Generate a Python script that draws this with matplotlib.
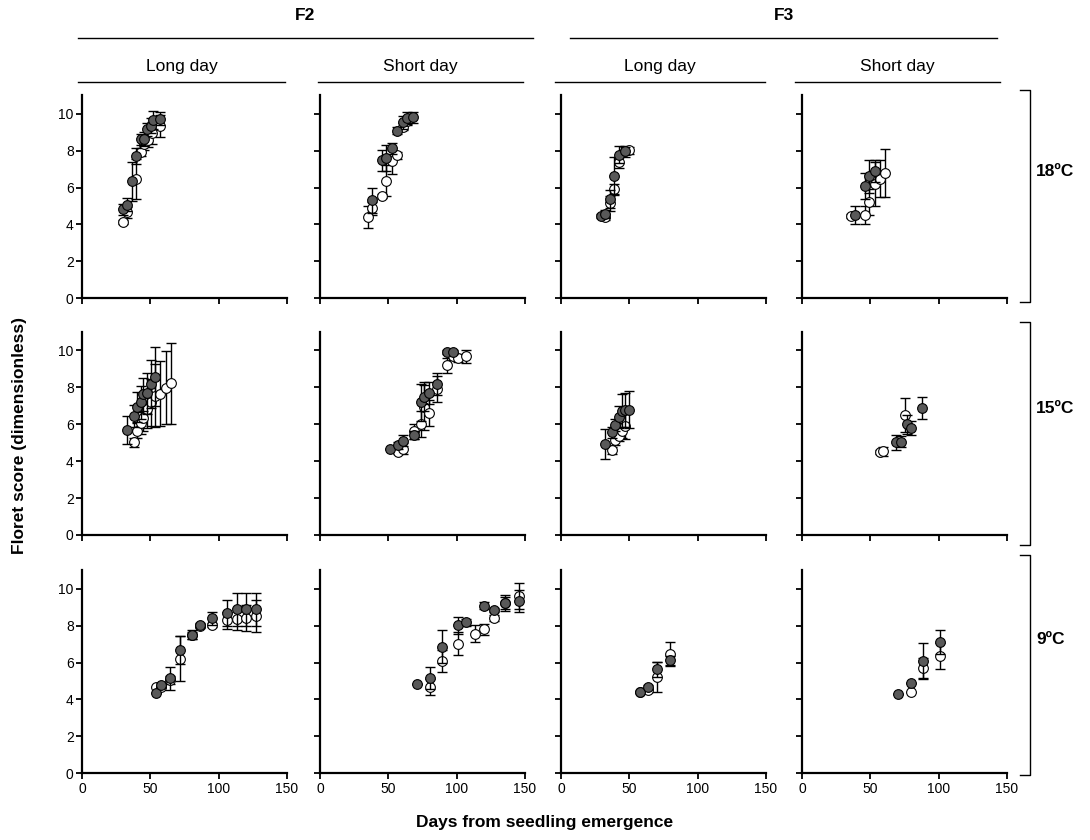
import matplotlib
matplotlib.use("Agg")
import matplotlib.pyplot as plt
from matplotlib.lines import Line2D

plt.rcParams["font.family"] = ["Liberation Sans", "DejaVu Sans"]

# ---- data: (days from emergence, floret score, error) ----
# F2, long day
F2_LD_18_FILLED = [(30.2, 4.83, 0.3), (33.2, 5.06, 0.35), (36.3, 6.33, 1.05), (39.3, 7.72, 0.45),
                   (43.2, 8.63, 0.3), (45.6, 8.63, 0.4), (47.3, 9.17, 0.35), (50.2, 9.35, 0.4),
                   (52.2, 9.67, 0.5), (57.3, 9.73, 0.35)]
F2_LD_18_OPEN = [(30.2, 4.12, 0.1), (33.2, 4.67, 0.3), (39.3, 6.47, 1.1), (43.2, 7.92, 0.2),
                 (45.6, 8.35, 0.3), (48.2, 8.59, 0.4), (51.1, 8.95, 0.6), (57.3, 9.35, 0.6)]
F2_LD_15_FILLED = [(33.1, 5.69, 0.75), (38.3, 6.46, 0.6), (40.0, 6.95, 0.8), (43.2, 7.18, 0.9),
                   (44.9, 7.63, 0.9), (47.3, 7.68, 1.1), (50.2, 8.17, 1.3), (53.2, 8.58, 1.6)]
F2_LD_15_OPEN = [(38.3, 5.03, 0.25), (40.0, 5.65, 0.4), (43.2, 6.05, 0.6), (44.9, 6.34, 0.7),
                 (47.3, 6.82, 1.0), (50.2, 7.18, 1.3), (53.2, 7.54, 1.7), (57.1, 7.66, 1.75),
                 (61.2, 7.99, 2.0), (65.3, 8.22, 2.2)]
F2_LD_9_FILLED = [(53.9, 4.34, 0.0), (58.0, 4.77, 0.1), (64.1, 5.14, 0.6), (71.5, 6.67, 0.75),
                  (80.2, 7.51, 0.25), (86.6, 8.02, 0.1), (95.1, 8.41, 0.35), (106.1, 8.68, 0.7),
                  (113.2, 8.88, 0.9), (120.0, 8.88, 0.9), (127.3, 8.88, 0.9)]
F2_LD_9_OPEN = [(53.9, 4.68, 0.0), (58.0, 4.70, 0.1), (64.1, 5.05, 0.2), (71.5, 6.22, 1.2),
                (80.2, 7.48, 0.2), (86.6, 8.0, 0.1), (95.1, 8.02, 0.1), (106.1, 8.29, 0.45),
                (113.2, 8.34, 0.6), (120.0, 8.43, 0.7), (127.3, 8.52, 0.85)]

# F2, short day
F2_SD_18_FILLED = [(38.2, 5.30, 0.7), (45.1, 7.47, 0.55), (48.5, 7.60, 0.7), (52.5, 8.14, 0.3),
                   (56.7, 9.09, 0.2), (60.4, 9.53, 0.35), (63.6, 9.77, 0.35), (67.8, 9.80, 0.3)]
F2_SD_18_OPEN = [(35.2, 4.39, 0.6), (38.2, 4.88, 0.35), (45.1, 5.55, 0.1), (48.5, 6.38, 0.85),
                 (52.5, 7.45, 0.7), (56.7, 7.74, 0.2), (60.4, 9.30, 0.2), (63.6, 9.60, 0.2)]
F2_SD_15_FILLED = [(51.2, 4.67, 0.0), (57.4, 4.85, 0.2), (60.9, 5.12, 0.3), (69.0, 5.42, 0.2),
                   (74.0, 7.18, 1.0), (75.9, 7.50, 0.8), (80.1, 7.68, 0.6), (85.8, 8.17, 0.6),
                   (92.9, 9.91, 0.1), (97.4, 9.91, 0.1)]
F2_SD_15_OPEN = [(57.4, 4.49, 0.1), (60.9, 4.67, 0.3), (69.0, 5.62, 0.4), (74.0, 6.01, 0.7),
                 (75.9, 6.91, 1.2), (80.1, 6.61, 0.7), (85.8, 7.93, 0.7), (92.9, 9.19, 0.4),
                 (97.4, 9.69, 0.2), (101.0, 9.60, 0.2), (106.9, 9.69, 0.35)]
F2_SD_9_FILLED = [(71.3, 4.83, 0.0), (80.4, 5.17, 0.6), (89.5, 6.85, 0.9), (101.3, 8.02, 0.45),
                  (106.5, 8.18, 0.2), (120.2, 9.08, 0.2), (127.4, 8.85, 0.1), (135.7, 9.23, 0.45),
                  (145.8, 9.32, 0.6)]
F2_SD_9_OPEN = [(80.4, 4.68, 0.45), (89.5, 6.09, 0.6), (101.3, 7.03, 0.6), (113.4, 7.57, 0.45),
                (120.2, 7.80, 0.3), (127.4, 8.41, 0.15), (135.7, 9.23, 0.3), (145.8, 9.59, 0.7)]

# F3, long day
F3_LD_18_FILLED = [(29.6, 4.47, 0.1), (32.5, 4.56, 0.2), (35.7, 5.37, 0.5), (38.6, 6.64, 1.0),
                   (42.5, 7.78, 0.45), (46.6, 8.00, 0.2)]
F3_LD_18_OPEN = [(32.5, 4.40, 0.15), (35.7, 5.15, 0.4), (38.6, 5.91, 0.3), (42.5, 7.36, 0.3),
                 (46.6, 7.96, 0.3), (49.7, 8.01, 0.2)]
F3_LD_15_FILLED = [(32.5, 4.94, 0.8), (37.4, 5.56, 0.3), (39.8, 5.96, 0.3), (42.5, 6.41, 0.6),
                   (44.7, 6.73, 0.9), (46.6, 6.77, 0.9), (49.7, 6.79, 1.0)]
F3_LD_15_OPEN = [(37.4, 4.58, 0.2), (39.8, 5.15, 0.3), (42.5, 5.39, 0.3), (44.7, 5.65, 0.4),
                 (46.6, 5.92, 0.7)]
F3_LD_9_FILLED = [(57.5, 4.38, 0.0), (63.6, 4.68, 0.1), (70.4, 5.64, 0.4), (79.6, 6.13, 0.25)]
F3_LD_9_OPEN = [(57.5, 4.41, 0.0), (63.6, 4.50, 0.1), (70.4, 5.23, 0.8), (79.6, 6.49, 0.65)]

# F3, short day
F3_SD_18_FILLED = [(39.0, 4.52, 0.5), (45.8, 6.09, 0.7), (48.7, 6.60, 0.9), (53.1, 6.92, 0.6)]
F3_SD_18_OPEN = [(35.8, 4.47, 0.1), (45.8, 4.52, 0.5), (48.7, 5.24, 0.7), (53.1, 6.20, 1.2),
                 (56.8, 6.47, 1.0), (60.9, 6.78, 1.3)]
F3_SD_15_FILLED = [(69.0, 5.03, 0.4), (72.5, 5.05, 0.3), (77.0, 6.00, 0.5), (80.0, 5.80, 0.4),
                   (88.0, 6.90, 0.6)]
F3_SD_15_OPEN = [(57.3, 4.49, 0.1), (59.3, 4.54, 0.25), (75.0, 6.50, 0.9)]
F3_SD_9_FILLED = [(70.2, 4.32, 0.0), (79.5, 4.92, 0.0), (88.5, 6.09, 0.95), (100.7, 7.10, 0.65)]
F3_SD_9_OPEN = [(79.5, 4.41, 0.0), (88.5, 5.68, 0.55), (100.7, 6.34, 0.7)]

GENERATIONS = ["F2", "F3"]
PHOTOPERIODS = ["Long day", "Short day"]
TEMPERATURES = ["18ºC", "15ºC", "9ºC"]
X_TICKS = [0, 50, 100, 150]
Y_TICKS = [0, 2, 4, 6, 8, 10]

PANELS = [
    [(F2_LD_18_FILLED, F2_LD_18_OPEN), (F2_SD_18_FILLED, F2_SD_18_OPEN),
     (F3_LD_18_FILLED, F3_LD_18_OPEN), (F3_SD_18_FILLED, F3_SD_18_OPEN)],
    [(F2_LD_15_FILLED, F2_LD_15_OPEN), (F2_SD_15_FILLED, F2_SD_15_OPEN),
     (F3_LD_15_FILLED, F3_LD_15_OPEN), (F3_SD_15_FILLED, F3_SD_15_OPEN)],
    [(F2_LD_9_FILLED, F2_LD_9_OPEN), (F2_SD_9_FILLED, F2_SD_9_OPEN),
     (F3_LD_9_FILLED, F3_LD_9_OPEN), (F3_SD_9_FILLED, F3_SD_9_OPEN)],
]

W, H = 1090, 840
fig = plt.figure(figsize=(W / 100, H / 100), dpi=100)

col_left = [82, 320, 561, 802]
ax_w = 205
row_bottom = [298.3, 535.0, 773.3]
ax_h = 203.0


def fx(px):
    return px / W


def fy(py):
    return 1 - py / H


def draw_series(ax, pts, face, z):
    xs = [p[0] for p in pts]
    ys = [p[1] for p in pts]
    es = [p[2] for p in pts]
    ax.errorbar(xs, ys, yerr=es, fmt="none", ecolor="black", elinewidth=1.0,
                capsize=3.5, capthick=1.0, zorder=z)
    ax.plot(xs, ys, "o", ms=7, mfc=face, mec="black", mew=0.8, ls="none", zorder=z + 0.5)


for r in range(3):
    for c in range(4):
        ax = fig.add_axes([fx(col_left[c]), fy(row_bottom[r]), fx(ax_w), ax_h / H])
        filled, open_ = PANELS[r][c]
        draw_series(ax, open_, "white", 2)
        draw_series(ax, filled, "#595959", 3)
        ax.set_xlim(0, 150)
        ax.set_ylim(0, 11)
        ax.set_xticks(X_TICKS)
        ax.set_yticks(Y_TICKS)
        for s in ("top", "right"):
            ax.spines[s].set_visible(False)
        for s in ("left", "bottom"):
            ax.spines[s].set_linewidth(1.6)
        ax.tick_params(direction="out", length=4, width=1.3, labelsize=10, pad=2)
        if r < 2:
            ax.set_xticklabels([])
        if c > 0:
            ax.set_yticklabels([])

# column headers with rules underneath
header_spans = [(78, 285), (318, 523), (555, 765), (795, 1000)]
for i, (a, b) in enumerate(header_spans):
    fig.text(fx((a + b) / 2), fy(67), PHOTOPERIODS[i % 2], ha="center", va="center", fontsize=12.5)
    fig.add_artist(Line2D([fx(a), fx(b)], [fy(82), fy(82)], color="black", lw=1.0))

gen_spans = [(78, 533), (570, 997)]
for g, (a, b) in zip(GENERATIONS, gen_spans):
    fig.text(fx((a + b) / 2), fy(15), g, ha="center", va="center", fontsize=12.5, fontweight="bold")
    fig.add_artist(Line2D([fx(a), fx(b)], [fy(38), fy(38)], color="black", lw=1.0))

# temperature brackets on the right
bracket_spans = [(90, 302), (322, 545), (555, 775)]
for t, (a, b) in zip(TEMPERATURES, bracket_spans):
    xb = 1030
    fig.add_artist(Line2D([fx(xb - 10), fx(xb), fx(xb), fx(xb - 10)],
                          [fy(a), fy(a), fy(b), fy(b)], color="black", lw=1.0))
    fig.text(fx(1036), fy((a + b) / 2 - 25), t, ha="left", va="center",
             fontsize=12.5, fontweight="bold")

fig.text(fx(20), fy(435), "Floret score (dimensionless)", rotation=90, ha="center",
         va="center", fontsize=12.5, fontweight="bold")
fig.text(fx(545), fy(822), "Days from seedling emergence", ha="center", va="center",
         fontsize=12.5, fontweight="bold")

fig.savefig("out.png", dpi=100)
